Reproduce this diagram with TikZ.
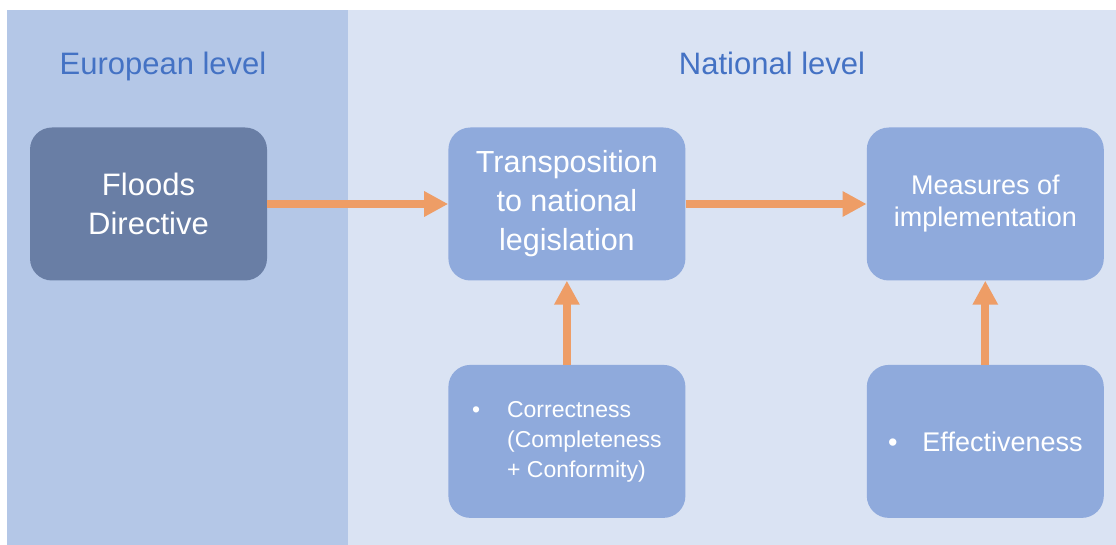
\documentclass[tikz,border=0pt]{standalone}
\usepackage{fontspec}
\setmainfont{Liberation Sans}
\usepackage{xcolor}
\usetikzlibrary{arrows.meta, positioning}
\definecolor{eupanel}{RGB}{180,199,231}
\definecolor{natpanel}{RGB}{218,227,243}
\definecolor{dirblue}{RGB}{105,126,165}
\definecolor{boxblue}{RGB}{143,170,220}
\definecolor{titleblue}{RGB}{68,114,196}
\definecolor{flowor}{RGB}{238,157,102}

\begin{document}
\begin{tikzpicture}[
    x=1pt, y=-1pt,
    node distance=84pt and 181pt,
    box/.style={rounded corners=22pt, minimum width=237pt, minimum height=153pt,
                text=white, align=center, inner sep=0pt},
    title/.style={anchor=base, text=titleblue, font=\fontsize{31}{37}\selectfont},
    flow/.style={-{Triangle[length=24pt, width=24pt]}, line width=8pt, color=flowor},
]
\useasboundingbox (0,0) rectangle (1116,545);

% --- Panels ---
\fill[natpanel] (348,10) rectangle (1116,545);
\fill[eupanel] (7,10) rectangle (348,545);

\node[title] (eutitle) at (163,75) {European level};
\node[title] (nattitle) at (772,75) {National level};

% --- Top row ---
\node[box, fill=dirblue, font=\fontsize{31}{39}\selectfont] (floods) at (148.5,204) {Floods\\Directive};
\node[box, fill=boxblue, font=\fontsize{30.5}{39}\selectfont, right=of floods] (transp) {Transposition\\to national\\legislation};
\node[box, fill=boxblue, font=\fontsize{27}{32}\selectfont, right=of transp] (measures) {Measures of\\implementation};

% --- Bottom row ---
\node[box, fill=boxblue, font=\fontsize{23}{30}\selectfont, below=of transp] (correct)
    {\textbullet\hspace{27pt}\begin{tabular}[t]{@{}l@{}}Correctness\\(Completeness\\+ Conformity)\end{tabular}};
\node[box, fill=boxblue, font=\fontsize{27}{32}\selectfont, below=of measures] (effect)
    {\textbullet\hspace{25pt}Effectiveness};

% --- Arrows ---
\draw[flow] (floods) -- (transp);
\draw[flow] (transp) -- (measures);
\draw[flow] (correct) -- (transp);
\draw[flow] (effect) -- (measures);

\end{tikzpicture}
\end{document}
